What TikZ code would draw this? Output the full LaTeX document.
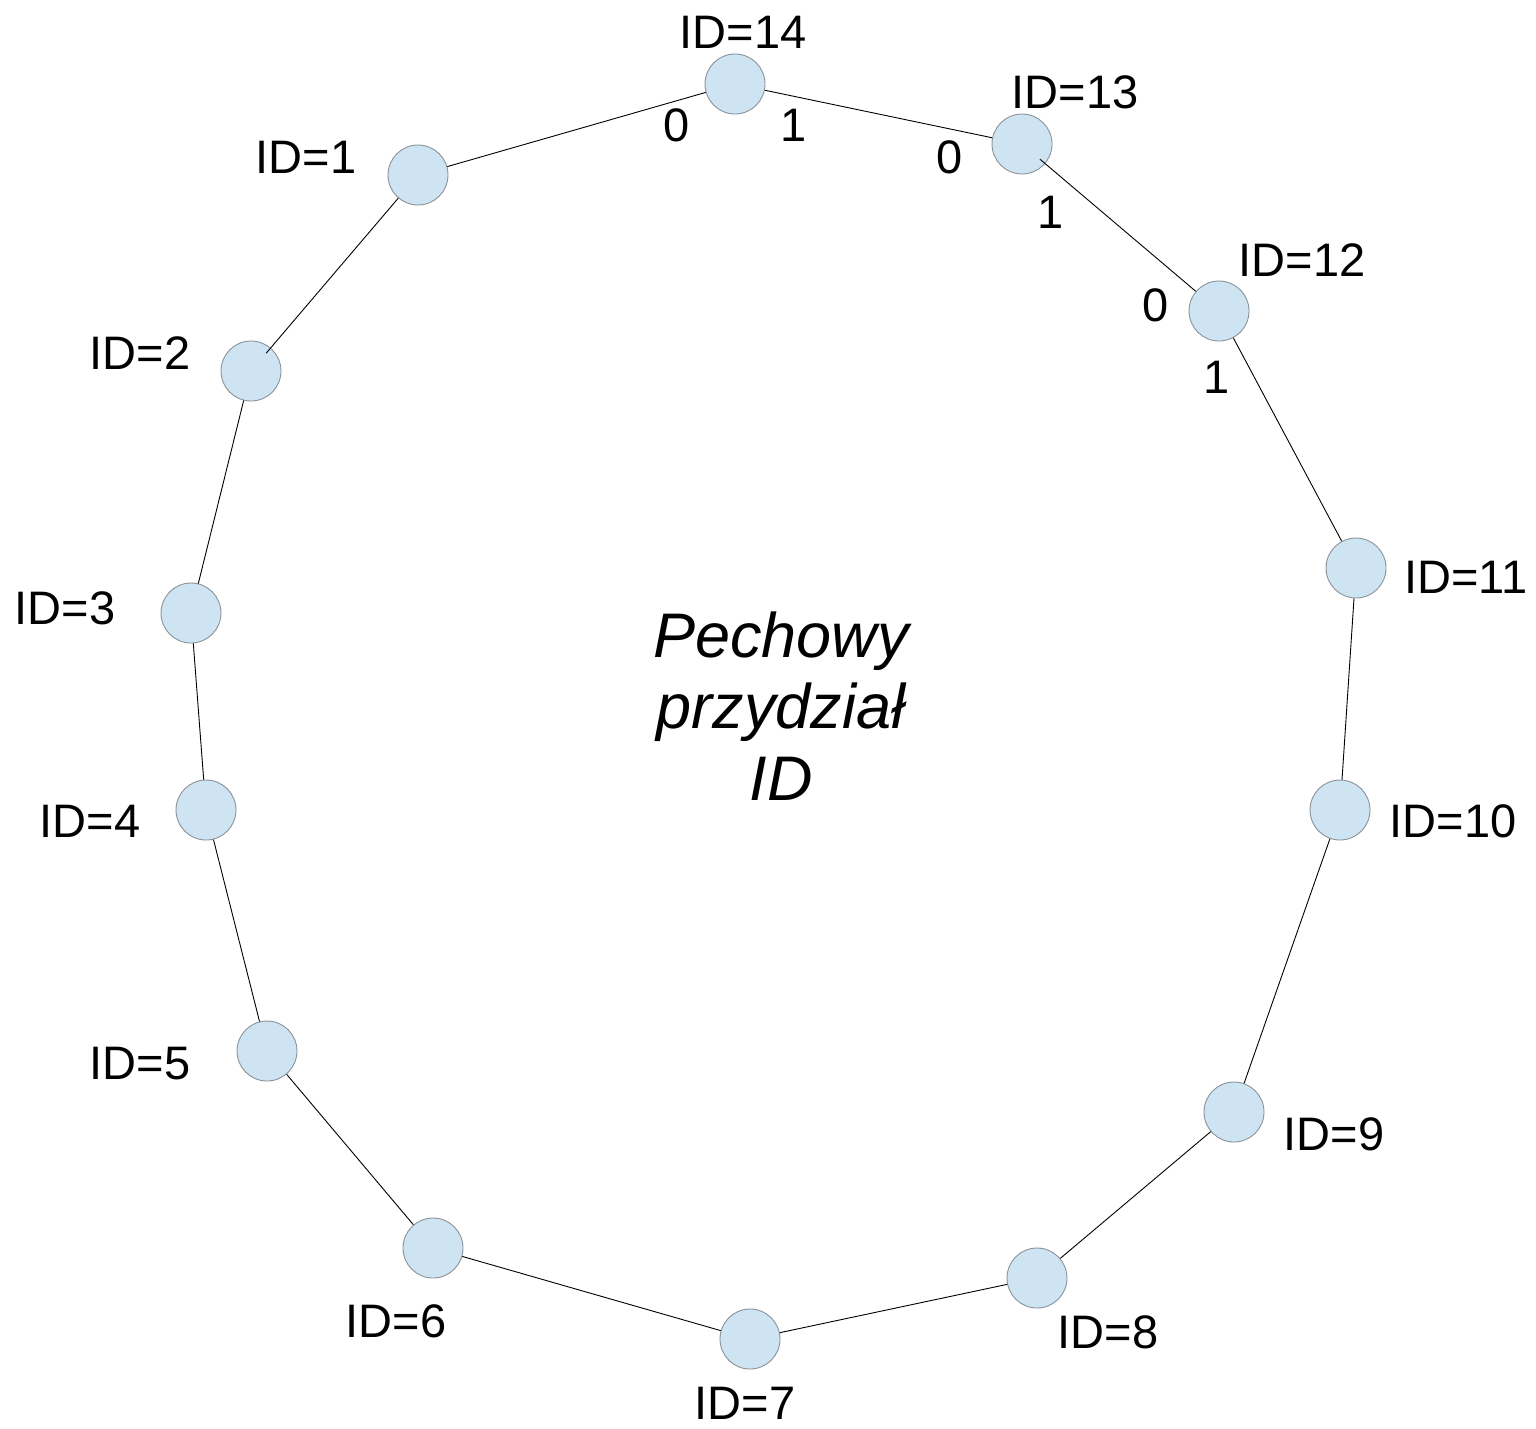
\documentclass[tikz,border=0pt]{standalone}
\usepackage{fontspec}
\setmainfont{Liberation Sans}
\definecolor{circfill}{HTML}{CFE4F3}
\definecolor{circdraw}{HTML}{8A9299}
\begin{document}
\begin{tikzpicture}[x=1pt,y=-1pt,
  peer/.style={circle,draw=circdraw,fill=circfill,line width=0.9pt,minimum size=60pt,inner sep=0pt},
  lbl/.style={anchor=base,inner sep=0pt,font=\fontsize{47}{56}\selectfont},
  link/.style={draw=black,line width=0.9pt},
  title/.style={anchor=base,inner sep=0pt,align=center,font=\fontsize{63}{71.5}\selectfont\itshape}]
\useasboundingbox (0,0) rectangle (1536,1428);
% peers
\node[peer] (n14) at (735,84) {};
\node[peer] (n13) at (1022,144) {};
\node[peer] (n12) at (1219,311) {};
\node[peer] (n11) at (1356,568) {};
\node[peer] (n10) at (1340,810) {};
\node[peer] (n9) at (1234,1112) {};
\node[peer] (n8) at (1037,1278) {};
\node[peer] (n7) at (750,1339) {};
\node[peer] (n6) at (433,1248) {};
\node[peer] (n5) at (267,1051) {};
\node[peer] (n4) at (206,810) {};
\node[peer] (n3) at (191,613) {};
\node[peer] (n2) at (251,371) {};
\node[peer] (n1) at (418,175) {};
% links
\draw[link] (n14) -- (n1);
\draw[link] (n14) -- (n13);
\draw[link,shorten <=-7pt] (n13) -- (n12);
\draw[link] (n12) -- (n11);
\draw[link] (n11) -- (n10);
\draw[link] (n10) -- (n9);
\draw[link] (n9) -- (n8);
\draw[link] (n8) -- (n7);
\draw[link] (n7) -- (n6);
\draw[link] (n6) -- (n5);
\draw[link] (n5) -- (n4);
\draw[link] (n4) -- (n3);
\draw[link] (n3) -- (n2);
\draw[link,shorten <=-7pt] (n2) -- (n1);
% ID labels
\node[lbl] (l14) at (743,48) {ID=14};
\node[lbl] (l13) at (1075,108) {ID=13};
\node[lbl] (l12) at (1302,276) {ID=12};
\node[lbl] (l11) at (1466,593) {ID=11};
\node[lbl] (l10) at (1453,837) {ID=10};
\node[lbl] (l9) at (1334,1150) {ID=9};
\node[lbl] (l8) at (1108,1348) {ID=8};
\node[lbl] (l7) at (745,1419) {ID=7};
\node[lbl] (l6) at (396,1337) {ID=6};
\node[lbl] (l5) at (140,1079) {ID=5};
\node[lbl] (l4) at (90,837) {ID=4};
\node[lbl] (l3) at (65,624) {ID=3};
\node[lbl] (l2) at (140,369) {ID=2};
\node[lbl] (l1) at (306,173) {ID=1};
% port labels
\node[lbl] (p14a) at (677,141) {0};
\node[lbl] (p14b) at (794,141) {1};
\node[lbl] (p13a) at (950,173) {0};
\node[lbl] (p13b) at (1051,228) {1};
\node[lbl] (p12a) at (1156,321) {0};
\node[lbl] (p12b) at (1217,393) {1};
% title
\node[title] (t) at (781,800) {Pechowy\\przydział\\ID};
\end{tikzpicture}
\end{document}
